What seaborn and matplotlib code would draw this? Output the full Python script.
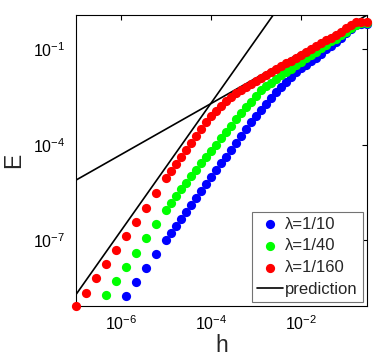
import numpy as np
import pandas as pd
import matplotlib
matplotlib.use("Agg")
import matplotlib.pyplot as plt
import seaborn as sns
from matplotlib.ticker import NullLocator

# log10(h) grid shared by all series
log_h = [-7.00, -6.78, -6.56, -6.33, -6.11, -5.89, -5.67, -5.44, -5.22,
         -5.00, -4.89, -4.78, -4.67, -4.56, -4.44, -4.33, -4.22, -4.11, -4.00,
         -3.89, -3.78, -3.67, -3.56, -3.44, -3.33, -3.22, -3.11, -3.00,
         -2.89, -2.78, -2.67, -2.56, -2.44, -2.33, -2.22, -2.11, -2.00,
         -1.89, -1.78, -1.67, -1.56, -1.44, -1.33, -1.22, -1.11, -1.00,
         -0.89, -0.78, -0.67, -0.53]

# log10(E) per series (green starts at grid index 3, blue at index 5)
log_E_160 = [-9.06, -8.64, -8.19, -7.74, -7.30, -6.86, -6.42, -5.98, -5.52,
             -5.04, -4.82, -4.60, -4.38, -4.16, -3.94, -3.73, -3.51, -3.30, -3.10,
             -2.93, -2.78, -2.64, -2.51, -2.39, -2.28, -2.18, -2.08, -1.99,
             -1.90, -1.81, -1.72, -1.63, -1.54, -1.45, -1.36, -1.27, -1.18,
             -1.09, -1.00, -0.91, -0.82, -0.73, -0.64, -0.55, -0.45, -0.34,
             -0.23, -0.16, -0.14, -0.14]
log_E_40 = [-8.71, -8.27, -7.83, -7.39, -6.94, -6.49,
            -6.05, -5.83, -5.61, -5.40, -5.19, -4.98, -4.78, -4.58, -4.39, -4.20,
            -4.00, -3.80, -3.60, -3.40, -3.19, -3.00, -2.82, -2.65, -2.47,
            -2.29, -2.16, -2.05, -1.94, -1.82, -1.71, -1.61, -1.50, -1.39,
            -1.28, -1.18, -1.08, -0.98, -0.86, -0.76, -0.67, -0.57, -0.47,
            -0.34, -0.23, -0.19, -0.18]
log_E_10 = [-8.76, -8.32, -7.86, -7.42,
            -6.98, -6.77, -6.55, -6.33, -6.11, -5.88, -5.66, -5.44, -5.23, -5.01,
            -4.80, -4.58, -4.37, -4.16, -3.94, -3.73, -3.52, -3.30, -3.09,
            -2.90, -2.72, -2.54, -2.36, -2.18, -2.03, -1.87, -1.72, -1.60,
            -1.49, -1.38, -1.27, -1.15, -1.01, -0.89, -0.77, -0.64, -0.51,
            -0.38, -0.26, -0.21, -0.20]

labels = ["λ=1/10", "λ=1/40", "λ=1/160"]
colors = ["#0000ff", "#00ff00", "#ff0000"]
series = [log_E_10, log_E_40, log_E_160]

# prediction lines: E = 10**c * h**p
pred_power = [2.0, 0.8]
pred_logc = [5.30, 0.49]

sns.set_style("white")
plt.rcParams["font.family"] = ["Liberation Sans", "DejaVu Sans"]
plt.rcParams["mathtext.fontset"] = "custom"
plt.rcParams["mathtext.rm"] = "Liberation Sans"
plt.rcParams["mathtext.it"] = "Liberation Sans:italic"

frames = []
for lab, vals in zip(labels, series):
    hh = np.array(log_h[len(log_h) - len(vals):])
    frames.append(pd.DataFrame({"h": 10.0 ** hh, "E": 10.0 ** np.array(vals), "lam": lab}))
df = pd.concat(frames, ignore_index=True)

fig = plt.figure(figsize=(3.84, 3.6), dpi=100)
ax = fig.add_axes([76 / 384, 54 / 360, 291 / 384, 290.7 / 360])

for lab, col in zip(labels, colors):
    sub = df[df["lam"] == lab]
    sns.scatterplot(data=sub, x="h", y="E", color=col, s=44, linewidth=0,
                    clip_on=False, label=lab, ax=ax, zorder=3)

h_line = 10.0 ** np.array([log_h[0], log_h[-1]])
for i, (p, c) in enumerate(zip(pred_power, pred_logc)):
    ax.plot(h_line, 10.0 ** c * h_line ** p, color="k", lw=1.2,
            label="prediction" if i == 0 else None, zorder=2)

ax.set_xscale("log")
ax.set_yscale("log")
ax.set_xlim(10.0 ** log_h[0], 10.0 ** log_h[-1])
ax.set_ylim(10.0 ** -9.06, 10.0 ** 0.06)
ax.set_xticks([1e-6, 1e-4, 1e-2])
ax.set_yticks([1e-7, 1e-4, 1e-1])
ax.xaxis.set_minor_locator(NullLocator())
ax.yaxis.set_minor_locator(NullLocator())
ax.tick_params(direction="in", length=3.5, width=0.8, top=True, right=True,
               labelsize=11.5, colors="k")
ax.tick_params(axis="x", pad=6)
ax.tick_params(axis="y", pad=8)
for sp in ax.spines.values():
    sp.set_color("k")
    sp.set_linewidth(0.8)

ax.set_xlabel("h", fontsize=16.5, labelpad=1)
ax.set_ylabel("E", fontsize=16.5, labelpad=5)

leg = ax.legend(loc="lower right", fontsize=12, frameon=True, fancybox=False,
                edgecolor="0.45", framealpha=1, borderaxespad=0.25,
                borderpad=0.3, labelspacing=0.4, handlelength=1.55,
                handletextpad=0.15, scatterpoints=1)
leg.get_frame().set_linewidth(0.8)

fig.savefig("out.png", dpi=100)
